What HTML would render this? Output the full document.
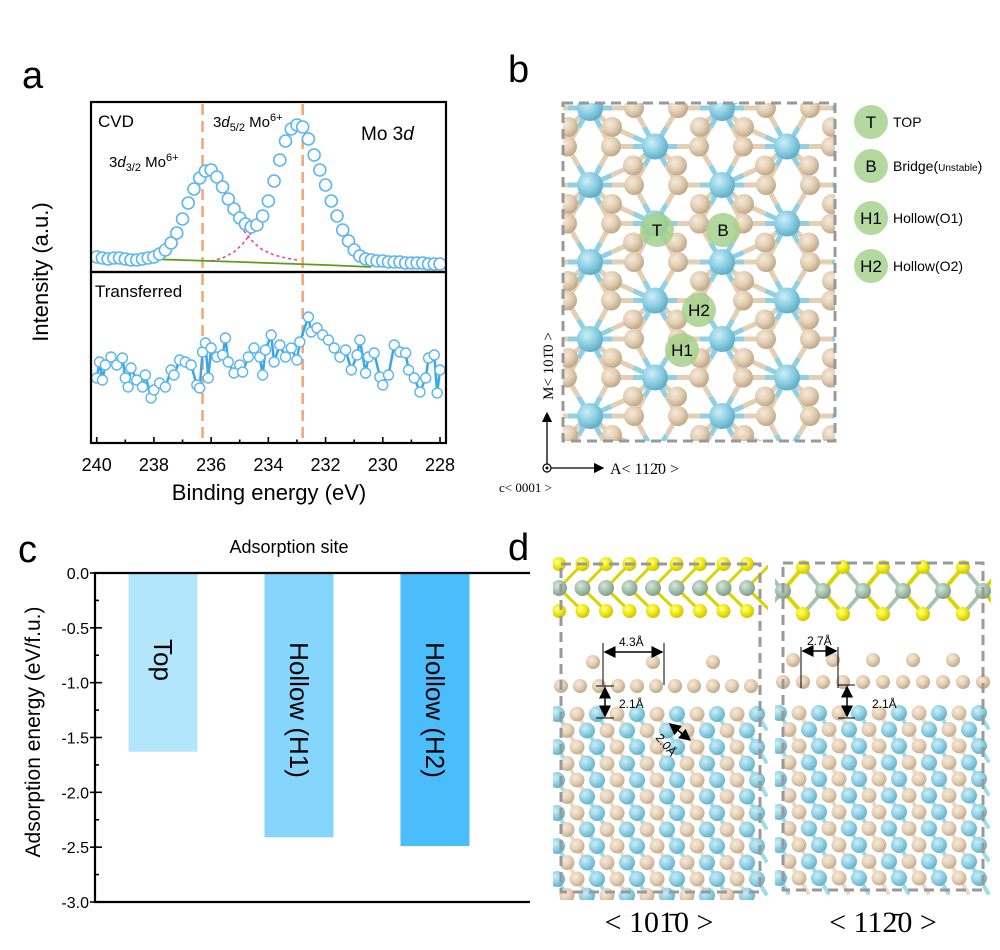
<!DOCTYPE html>
<html><head><meta charset="utf-8"><style>
html,body{margin:0;padding:0;background:#fff;}
svg{display:block;font-family:"Liberation Sans",Arial,sans-serif;}
</style></head><body>
<svg id="fig" width="1000" height="950" viewBox="0 0 1000 950" xmlns="http://www.w3.org/2000/svg">
<defs>
<radialGradient id="gBlue" cx="0.38" cy="0.35" r="0.7"><stop offset="0" stop-color="#cdeef7"/><stop offset="0.5" stop-color="#8fd0e4"/><stop offset="1" stop-color="#5aa9c2"/></radialGradient>
<radialGradient id="gTan" cx="0.38" cy="0.35" r="0.7"><stop offset="0" stop-color="#f6eadb"/><stop offset="0.5" stop-color="#e3cfb4"/><stop offset="1" stop-color="#bba383"/></radialGradient>
<radialGradient id="gYel" cx="0.38" cy="0.35" r="0.7"><stop offset="0" stop-color="#ffff9a"/><stop offset="0.5" stop-color="#f1ea10"/><stop offset="1" stop-color="#c8bf00"/></radialGradient>
<radialGradient id="gGrn" cx="0.38" cy="0.35" r="0.7"><stop offset="0" stop-color="#d7e7dc"/><stop offset="0.5" stop-color="#a7c2af"/><stop offset="1" stop-color="#7c9984"/></radialGradient>
<marker id="arr" markerWidth="8" markerHeight="8" refX="7" refY="4" orient="auto"><path d="M0,0 L8,4 L0,8 z" fill="#000"/></marker>
<marker id="arrS" markerWidth="8" markerHeight="8" refX="1" refY="4" orient="auto"><path d="M8,0 L0,4 L8,8 z" fill="#000"/></marker>
</defs>

<text x="22" y="88" font-size="38">a</text>
<text x="508" y="82" font-size="38">b</text>
<text x="18" y="562" font-size="38">c</text>
<text x="508" y="560" font-size="38">d</text>

<g id="panelA"></g>
<g id="panelB"></g>
<g id="panelC"></g>
<g id="panelD"></g>
</svg>
<script>
// ===== Panel A data =====
const topEnergies = [240,239.8,239.6,239.4,239.2,239,238.8,238.6,238.4,238.2,238,237.8,237.6,237.4,237.2,237,236.8,236.6,236.4,236.2,236,235.8,235.6,235.4,235.2,235,234.8,234.6,234.4,234.2,234,233.8,233.6,233.4,233.2,233,232.8,232.6,232.4,232.2,232,231.8,231.6,231.4,231.2,231,230.8,230.6,230.4,230.2,230,229.8,229.6,229.4,229.2,229,228.8,228.6,228.4,228.2,228];
const topIntensity = [6,5,4,5,5,4,3,3,4,5,6,9,13,20,30,44,60,74,85,92,93,86,76,64,54,45,39,36,38,47,62,82,103,122,134,138,136,124,108,93,78,62,47,33,22,13,7,4,3,2,2,1,1,1,0,0,0,0,-1,-1,-1];
const bgEnergies = [238.2,236,234,232,230.4];
const bgIntensity = [4,2,0,-2,-4];
const comp1Energies = [235.1,234.8,234.5,234.2,233.8,233.4,233.0];
const comp1Intensity = [42,30,20,13,8,5,3];
const comp2Energies = [236.0,235.6,235.2,234.9,234.6];
const comp2Intensity = [2,5,11,19,30];
const botEnergies = [240,239.9,239.8,239.7,239.5,239.3,239.1,239,238.9,238.8,238.6,238.4,238.3,238.1,238,237.8,237.6,237.4,237.3,237.1,236.9,236.7,236.5,236.4,236.3,236.2,236.1,236,235.8,235.6,235.5,235.4,235.2,235,234.9,234.7,234.5,234.3,234.2,234.1,233.9,233.8,233.6,233.4,233.2,233,232.9,232.6,232.5,232.3,232.1,231.9,231.7,231.5,231.3,231.1,230.9,230.8,230.6,230.5,230.3,230.1,230,229.8,229.6,229.4,229.2,229.1,228.9,228.7,228.5,228.4,228.2,228.1,228];
const botIntensity = [32,48,30,45,53,45,52,32,23,42,30,23,35,12,20,27,23,40,35,50,48,45,25,22,58,67,32,62,53,55,72,48,37,45,38,53,62,53,35,60,75,48,65,53,62,50,68,93,78,82,75,70,62,53,60,40,55,70,37,53,57,33,25,35,65,58,57,40,32,18,32,52,55,17,40];
const xTicksA = [240,238,236,234,232,230,228];
const dashedPeaks = [236.3,232.8];

// ===== Panel C data =====
const siteNames = ["Top","Hollow (H1)","Hollow (H2)"];
const siteEnergies = [-1.63,-2.41,-2.49];
const siteColors = ["#b3e5fb","#86d5fc","#4bbcfc"];
const yTicksC = [0.0,-0.5,-1.0,-1.5,-2.0,-2.5,-3.0];
const yTickLabelsC = ["0.0","-0.5","-1.0","-1.5","-2.0","-2.5","-3.0"];

const NS="http://www.w3.org/2000/svg";
function mk(parent, tag, attrs, text){
  const e=document.createElementNS(NS,tag);
  for(const k in attrs) e.setAttribute(k,attrs[k]);
  if(text!==undefined) e.textContent=text;
  parent.appendChild(e); return e;
}

// ---------- Panel A ----------
(function(){
  const g=document.getElementById('panelA');
  const L=91,R=446,T=102,M=272,B=443;
  const xA=e=>96.7+(240-e)*(440-96.7)/12;
  const yTop=v=>263-v*1.0;
  const yBot=v=>410-v*1.0;
  dashedPeaks.forEach((p,i)=>{
    const ln=mk(g,'line',{x1:xA(p),x2:xA(p),y1:T+2,y2:B,stroke:'#f4a573','stroke-width':2.5,'stroke-dasharray':'11,6'});
    
    
  });
  let d=bgEnergies.map((e,i)=>(i?'L':'M')+xA(e)+','+yTop(bgIntensity[i])).join(' ');
  let p=mk(g,'path',{d:d,fill:'none',stroke:'#5a9e1a','stroke-width':1.8});
  
  
  d=comp1Energies.map((e,i)=>(i?'L':'M')+xA(e)+','+yTop(comp1Intensity[i])).join(' ');
  p=mk(g,'path',{d:d,fill:'none',stroke:'#ee3a9c','stroke-width':1.5,'stroke-dasharray':'3,3'});
  
  
  d=comp2Energies.map((e,i)=>(i?'L':'M')+xA(e)+','+yTop(comp2Intensity[i])).join(' ');
  p=mk(g,'path',{d:d,fill:'none',stroke:'#ee3a9c','stroke-width':1.5,'stroke-dasharray':'3,3'});
  
  
  topEnergies.forEach((e,i)=>{
    const c=mk(g,'circle',{cx:xA(e),cy:yTop(topIntensity[i]),r:6,fill:'#fff',stroke:'#5ab6ee','stroke-width':1.6});
    
    
  });
  d=botEnergies.map((e,i)=>(i?'L':'M')+xA(e)+','+yBot(botIntensity[i])).join(' ');
  p=mk(g,'path',{d:d,fill:'none',stroke:'#3aa6ea','stroke-width':2.5});
  
  
  botEnergies.forEach((e,i)=>{
    const c=mk(g,'circle',{cx:xA(e),cy:yBot(botIntensity[i]),r:5,fill:'#fff',stroke:'#5ab6ee','stroke-width':1.4});
    
    
  });
  let f=mk(g,'rect',{x:L,y:T,width:R-L,height:M-T,fill:'none',stroke:'#000','stroke-width':2.2});
  
  
  f=mk(g,'rect',{x:L,y:M,width:R-L,height:B-M,fill:'none',stroke:'#000','stroke-width':2.2});
  
  
  for(let e=240;e>=228;e-=1){
    const major=(e%2===0);
    mk(g,'line',{x1:xA(e),x2:xA(e),y1:B,y2:B-(major?6:3.5),stroke:'#000','stroke-width':1.6});
  }
  xTicksA.forEach(e=>{
    const t=mk(g,'text',{x:xA(e),y:471,'font-size':18,'text-anchor':'middle'},String(e));
    
    
  });
  let t=mk(g,'text',{x:269,y:500,'font-size':22,'text-anchor':'middle'},'Binding energy (eV)');
  
  
  t=mk(g,'text',{x:0,y:0,'font-size':22,'text-anchor':'middle',transform:'translate(48,272) rotate(-90)'},'Intensity (a.u.)');
  
  
  t=mk(g,'text',{x:98,y:127,'font-size':17},'CVD');
  
  
  t=mk(g,'text',{x:95,y:297,'font-size':17},'Transferred');
  
  
  t=mk(g,'text',{x:361,y:140,'font-size':19});
  t.innerHTML='Mo 3<tspan font-style="italic">d</tspan>';
  
  
  t=mk(g,'text',{x:213,y:127,'font-size':15});
  t.innerHTML='3<tspan font-style="italic">d</tspan><tspan font-size="11" dy="4">5/2</tspan><tspan dy="-4"> Mo</tspan><tspan font-size="11" dy="-6">6+</tspan>';
  
  
  t=mk(g,'text',{x:109,y:167,'font-size':15});
  t.innerHTML='3<tspan font-style="italic">d</tspan><tspan font-size="11" dy="4">3/2</tspan><tspan dy="-4"> Mo</tspan><tspan font-size="11" dy="-6">6+</tspan>';
  
  
})();

// ---------- Panel C ----------
(function(){
  const g=document.getElementById('panelC');
  const L=95,R=530,T=573,B=902;
  const yC=v=>T+(0-v)/3*(B-T);
  const bandW=136, barW=69;
  siteNames.forEach((n,i)=>{
    const cx=163+i*bandW;
    const r=mk(g,'rect',{x:cx-barW/2,y:yC(0),width:barW,height:yC(siteEnergies[i])-yC(0),fill:siteColors[i]});
    
    
    const ty=(i===0)?660:710;
    const t=mk(g,'text',{x:0,y:0,'font-size':26,'text-anchor':'middle','dominant-baseline':'central',transform:'translate('+cx+','+ty+') rotate(90)'},n);
    
    
  });
  const ax=mk(g,'path',{d:'M'+R+','+T+' L'+L+','+T+' L'+L+','+B+' L'+R+','+B,fill:'none',stroke:'#000','stroke-width':2.2});
  
  
  for(let k=0;k<=12;k++){
    const v=-k*0.25;
    mk(g,'line',{x1:L,x2:L+(k%2?4:7),y1:yC(v),y2:yC(v),stroke:'#000','stroke-width':1.6});
  }
  yTicksC.forEach((v,i)=>{
    mk(g,'line',{x1:L-5,x2:L,y1:yC(v),y2:yC(v),stroke:'#000','stroke-width':1.6});
    const t=mk(g,'text',{x:89,y:yC(v)+6,'font-size':16,'text-anchor':'end'},yTickLabelsC[i]);
    
    
  });
  let t=mk(g,'text',{x:289,y:553,'font-size':18,'text-anchor':'middle'},'Adsorption site');
  
  
  t=mk(g,'text',{x:0,y:0,'font-size':21,'text-anchor':'middle',transform:'translate(40,732) rotate(-90)'},'Adsorption energy (eV/f.u.)');
  
  
})();

// ---------- Panel B (structure) ----------
(function(){
  const g=document.getElementById('panelB');
  const clip=mk(g,'clipPath',{id:'clipB'});
  mk(clip,'rect',{x:563,y:103,width:272,height:338});
  const s=mk(g,'g',{'clip-path':'url(#clipB)'});
  const bonds=mk(s,'g',{});
  const atoms=mk(s,'g',{});
  const blues=[],tans=[];
  for(let j=-1;j<10;j++){
    const y=108+j*38.5;
    const off=(j%2===0)?0:65;
    for(let k=-1;k<4;k++){
      const bx=590+off+k*132;
      blues.push([bx,y]);
      tans.push([bx-44,y]);tans.push([bx+44,y]);
      tans.push([bx+22,y+19]);tans.push([bx-22,y+19]);
    }
  }
  blues.forEach(b=>{
    tans.forEach(t=>{
      const dx=t[0]-b[0],dy=t[1]-b[1];
      if(dx*dx+dy*dy<48*48){
        mk(bonds,'line',{x1:b[0],y1:b[1],x2:(b[0]+t[0])/2,y2:(b[1]+t[1])/2,stroke:'#8fd0e4','stroke-width':5});
        mk(bonds,'line',{x1:(b[0]+t[0])/2,y1:(b[1]+t[1])/2,x2:t[0],y2:t[1],stroke:'#e3cfb4','stroke-width':5});
      }
    });
  });
  tans.forEach(t=>mk(atoms,'circle',{cx:t[0],cy:t[1],r:10,fill:'url(#gTan)'}));
  blues.forEach(b=>mk(atoms,'circle',{cx:b[0],cy:b[1],r:13,fill:'url(#gBlue)'}));
  const box=mk(g,'rect',{x:563,y:103,width:272,height:338,fill:'none',stroke:'#999','stroke-width':3,'stroke-dasharray':'10,6'});
  
  
  const sites=[["T",657,230],["B",723,230],["H2",699,310],["H1",682,350]];
  sites.forEach(st=>{
    const c=mk(g,'circle',{cx:st[1],cy:st[2],r:17,fill:'#a6d18c','fill-opacity':0.85});
    
    
    const t=mk(g,'text',{x:st[1],y:st[2]+6,'font-size':17,'text-anchor':'middle'},st[0]);
    
    
  });
  const leg=[["T","TOP",122],["B","",166],["H1","Hollow(O1)",218],["H2","Hollow(O2)",266]];
  leg.forEach((l,i)=>{
    const c=mk(g,'circle',{cx:871,cy:l[2],r:17,fill:'#b3d9a0'});
    
    
    const t=mk(g,'text',{x:871,y:l[2]+6,'font-size':17,'text-anchor':'middle'},l[0]);
    
    
    const t2=mk(g,'text',{x:893,y:l[2]+5,'font-size':14});
    if(i===1){t2.innerHTML='Bridge(<tspan font-size="10">Unstable</tspan>)';}else{t2.textContent=l[1];}
    
    
  });
  const a1=mk(g,'line',{x1:547,y1:468,x2:547,y2:413,stroke:'#000','stroke-width':1.3,'marker-end':'url(#arr)'});
  
  
  const a2=mk(g,'line',{x1:547,y1:468,x2:603,y2:468,stroke:'#000','stroke-width':1.3,'marker-end':'url(#arr)'});
  
  
  mk(g,'circle',{cx:547,cy:468,r:4,fill:'#fff',stroke:'#000','stroke-width':1.2});
  mk(g,'circle',{cx:547,cy:468,r:1.5,fill:'#000'});
  let t=mk(g,'text',{x:0,y:0,'font-size':15,'font-family':'Liberation Serif,serif','text-anchor':'middle',transform:'translate(553,366) rotate(-90)'},'M< 101\u03040 >');
  
  
  t=mk(g,'text',{x:610,y:474,'font-size':16,'font-family':'Liberation Serif,serif'},'A< 112\u03040 >');
  
  
  t=mk(g,'text',{x:499,y:492,'font-size':13,'font-family':'Liberation Serif,serif'},'c< 0001 >');
  
  
})();

// ---------- Panel D (side views) ----------
(function(){
  const g=document.getElementById('panelD');
  function side(x0,x1,y0,y1,mos2dx,zig,name){
    const gr=mk(g,'g',{});
    
    
    const clip=mk(gr,'clipPath',{id:'clip'+name});
    mk(clip,'rect',{x:x0-8,y:y0-8,width:x1-x0+16,height:y1-y0+16});
    const s=mk(gr,'g',{'clip-path':'url(#clip'+name+')'});
    for(let x=x0+(zig?0:-2);x<=x1+4;x+=mos2dx){
      if(zig){
        mk(s,'line',{x1:x,y1:591,x2:x+mos2dx/2,y2:567,stroke:'#d9d400','stroke-width':4});
        mk(s,'line',{x1:x,y1:591,x2:x+mos2dx/2,y2:614,stroke:'#d9d400','stroke-width':4});
        mk(s,'line',{x1:x,y1:591,x2:x-mos2dx/2,y2:567,stroke:'#a7c2af','stroke-width':4});
        mk(s,'line',{x1:x,y1:591,x2:x-mos2dx/2,y2:614,stroke:'#a7c2af','stroke-width':4});
      }else{
        mk(s,'line',{x1:x,y1:588,x2:x+mos2dx,y2:564,stroke:'#d9d400','stroke-width':3});
        mk(s,'line',{x1:x,y1:588,x2:x+mos2dx,y2:611,stroke:'#d9d400','stroke-width':3});
      }
    }
    for(let x=x0+(zig?0:-2);x<=x1+4;x+=mos2dx){
      if(zig){
        mk(s,'circle',{cx:x+mos2dx/2,cy:567,r:7,fill:'url(#gYel)'});
        mk(s,'circle',{cx:x+mos2dx/2,cy:614,r:7,fill:'url(#gYel)'});
        mk(s,'circle',{cx:x,cy:591,r:8,fill:'url(#gGrn)'});
      }else{
        mk(s,'circle',{cx:x,cy:564,r:7,fill:'url(#gYel)'});
        mk(s,'circle',{cx:x,cy:611,r:7,fill:'url(#gYel)'});
        mk(s,'circle',{cx:x,cy:588,r:8,fill:'url(#gGrn)'});
      }
    }
    for(let x=x0;x<=x1;x+=zig?20:19){
      mk(s,'circle',{cx:x,cy:zig?682:686,r:7,fill:'url(#gTan)'});
    }
    for(let x=x0+(zig?10:24);x<=x1;x+=zig?40:60){
      mk(s,'circle',{cx:x+ (zig?0:8),cy:zig?660:662,r:7,fill:'url(#gTan)'});
    }
    let row=0;
    for(let y=y0+150;y<=y1+4;y+=16.5,row++){
      for(let x=x0-4+(row%2)*10;x<=x1+4;x+=20){
        const col=Math.round((x-x0)/20);
        const blue=((col+row)%2===0);
        mk(s,'line',{x1:x,y1:y,x2:x+10,y2:y+16.5,stroke:blue?'#9fdcea':'#eadbc6','stroke-width':4});
        mk(s,'circle',{cx:x,cy:y,r:blue?8:7.5,fill:blue?'url(#gBlue)':'url(#gTan)','fill-opacity':0.95});
      }
    }
    const b=mk(gr,'rect',{x:x0,y:y0,width:x1-x0,height:y1-y0,fill:'none',stroke:'#999','stroke-width':3,'stroke-dasharray':'10,6'});
    
    
  }
  side(561,760,564,892,23.5,false,'side-view-1010');
  side(783,983,563,890,40,true,'side-view-1120');
  function arrow(x1,y1,x2,y2,nm){
    const l=mk(g,'line',{x1:x1,y1:y1,x2:x2,y2:y2,stroke:'#000','stroke-width':1.5,'marker-end':'url(#arr)','marker-start':'url(#arrS)'});
    
    
  }
  mk(g,'line',{x1:603,y1:643,x2:603,y2:685,stroke:'#000','stroke-width':1});
  mk(g,'line',{x1:664,y1:643,x2:664,y2:685,stroke:'#000','stroke-width':1});
  arrow(605,652,662,652,'distance-arrow-4-3');
  mk(g,'line',{x1:596,y1:686,x2:614,y2:686,stroke:'#000','stroke-width':1});
  mk(g,'line',{x1:596,y1:718,x2:614,y2:718,stroke:'#000','stroke-width':1});
  arrow(605,688,605,716,'distance-arrow-2-1-left');
  arrow(670,724,690,740,'distance-arrow-2-0');
  mk(g,'line',{x1:801,y1:647,x2:801,y2:688,stroke:'#000','stroke-width':1});
  mk(g,'line',{x1:838,y1:647,x2:838,y2:688,stroke:'#000','stroke-width':1});
  arrow(803,651,836,651,'distance-arrow-2-7');
  mk(g,'line',{x1:838,y1:685,x2:855,y2:685,stroke:'#000','stroke-width':1});
  mk(g,'line',{x1:838,y1:718,x2:855,y2:718,stroke:'#000','stroke-width':1});
  arrow(847,687,847,716,'distance-arrow-2-1-right');
  const lbls=[["4.3Å",619,646],["2.1Å",619,708],["2.7Å",807,645],["2.1Å",872,708]];
  lbls.forEach(l=>{
    const t=mk(g,'text',{x:l[1],y:l[2],'font-size':12},l[0]);
    
    
  });
  let t=mk(g,'text',{x:0,y:0,'font-size':12,transform:'translate(655,738) rotate(50)'},'2.0Å');
  
  
  t=mk(g,'text',{x:659,y:932,'font-size':30,'text-anchor':'middle','font-family':'Liberation Serif,serif'},'< 101\u03040 >');
  
  
  t=mk(g,'text',{x:883,y:932,'font-size':30,'text-anchor':'middle','font-family':'Liberation Serif,serif'},'< 112\u03040 >');
  
  
})();
</script>
</body></html>
